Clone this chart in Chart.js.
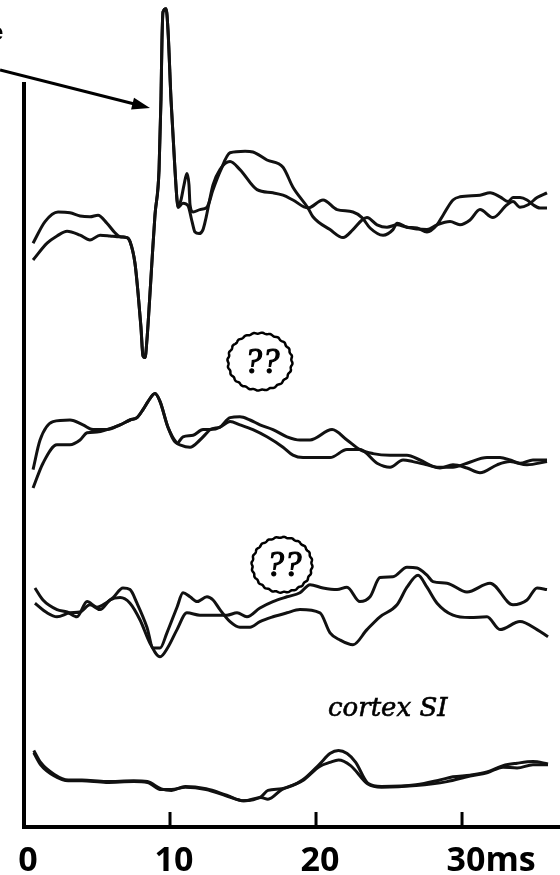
<!DOCTYPE html>
<html>
<head>
<meta charset="utf-8">
<script src="https://cdn.jsdelivr.net/npm/chart.js@4.4.1/dist/chart.umd.min.js"></script>
<style>
  html, body { margin: 0; padding: 0; background: #fff; }
  canvas { display: block; }
</style>
</head>
<body>
<canvas id="registro" width="560" height="875"></canvas>
<script>
// Eixo do tempo (ms)
const ticksTempo = [0, 10, 20, 30];
const rotulosTempo = ['0', '10', '20', '30ms'];

// Canal 1 (resposta com artefato de estímulo) - pares [ms, amplitude]
const inicio1a = [[0.62,72.6],[1.44,75.3],[2.33,76.5],[3.15,76.4],[3.84,76.0],[4.52,75.9],[5.07,76.1],[5.68,75.1],[6.23,73.9],[6.58,73.4]];
const inicio1b = [[0.62,70.5],[1.58,72.6],[2.26,73.5],[2.95,74.1],[3.84,73.6],[4.52,73.0],[5.21,73.6],[5.89,73.5],[6.37,73.4]];
const pico1 = [[7.05,73.3],[7.26,72.8],[7.60,70.1],[7.81,66.4],[8.01,62.1],[8.15,58.5],[8.29,58.3],[8.42,60.5],[8.56,64.3],[8.77,70.5],[8.97,76.1],[9.25,81.8],[9.38,90.5],[9.45,98.0],[9.52,101.5],[9.73,101.9],[9.86,99.3],[10.07,90.5],[10.34,81.8],[10.48,78.0],[10.55,77.1]];
const fim1a = [[10.75,78.0],[10.96,79.9],[11.16,81.3],[11.30,79.9],[11.37,77.4],[11.58,76.5],[12.05,76.8],[12.53,77.1],[12.95,79.3],[13.42,81.5],[14.11,83.9],[15.14,84.1],[15.68,84.0],[16.64,83.0],[17.74,82.1],[18.42,79.6],[19.45,77.0],[19.79,75.9],[20.96,74.3],[21.85,73.3],[22.53,74.3],[23.15,75.5],[23.49,75.8],[24.18,74.9],[24.86,74.6],[25.55,74.9],[26.23,74.6],[26.92,74.5],[27.60,74.0],[28.29,74.9],[28.70,76.1],[29.38,78.0],[29.86,78.4],[31.23,78.6],[31.92,78.9],[32.60,78.4],[33.15,77.8],[33.49,78.3],[33.97,78.3],[34.45,78.0],[34.86,77.4],[35.34,77.0],[35.82,77.0]];
const fim1b = [[10.89,77.6],[11.23,77.3],[11.51,75.3],[11.71,74.0],[11.99,73.8],[12.26,74.3],[12.47,75.8],[12.67,77.6],[12.95,79.9],[13.42,81.8],[14.11,82.8],[14.79,81.8],[15.96,79.3],[17.05,78.9],[17.74,78.6],[18.42,78.0],[19.45,77.0],[20.48,78.0],[21.44,76.8],[22.53,76.5],[23.15,75.8],[23.70,74.5],[24.59,73.6],[25.27,74.3],[25.55,75.1],[26.23,74.6],[27.60,74.3],[28.29,74.9],[29.18,75.3],[29.86,74.9],[30.55,75.5],[31.23,76.8],[32.12,75.8],[33.08,77.4],[33.49,77.8],[33.97,77.1],[34.52,77.4],[35.14,78.3],[35.82,78.9]];

// Canal 2
const inicio2a = [[0.62,44.3],[1.10,48.0],[1.99,50.3],[3.15,50.5],[4.04,49.9],[4.73,49.3],[5.68,49.3]];
const inicio2b = [[0.62,42.0],[1.30,45.1],[2.26,47.4],[3.15,47.4],[3.84,48.0],[4.32,48.9],[5.00,49.0],[5.68,49.3]];
const pico2 = [[6.58,49.9],[7.26,50.5],[7.74,50.8],[8.15,51.8],[8.49,52.8],[8.97,53.8],[9.32,52.8],[9.86,49.6],[10.48,47.6]];
const fim2a = [[10.89,48.4],[11.58,48.6],[12.26,49.3],[12.74,49.3],[13.42,49.6],[14.11,50.8],[14.79,50.9],[15.48,50.5],[16.16,49.9],[17.05,49.3],[18.01,48.4],[18.90,48.0],[19.59,48.0],[21.10,49.3],[22.12,48.0],[23.01,46.8],[23.90,46.3],[25.07,46.1],[26.23,46.1],[27.12,45.5],[28.29,44.6],[29.38,44.6],[30.34,45.1],[31.71,45.8],[32.60,45.8],[33.29,45.5],[33.97,45.1],[34.86,45.5],[35.82,45.5]];
const fim2b = [[10.68,47.4],[11.37,47.1],[12.05,48.0],[12.53,48.9],[12.74,49.3],[13.42,49.6],[14.11,50.3],[14.79,49.9],[15.68,49.3],[16.64,48.4],[17.74,47.1],[18.42,46.1],[19.11,45.8],[20.96,45.8],[22.12,46.8],[23.01,46.8],[24.18,45.1],[25.07,44.6],[25.96,45.5],[26.64,45.3],[27.60,44.9],[28.49,44.5],[29.38,44.9],[30.34,44.5],[31.23,43.9],[32.40,44.9],[33.29,45.3],[34.45,44.9],[35.82,45.3]];

// Canal 3
const canal3a = [[0.75,29.5],[1.30,28.0],[2.26,26.8],[2.95,26.5],[3.63,25.9],[4.32,27.8],[5.00,27.1],[5.41,27.4],[6.10,28.3],[6.78,29.5],[7.26,29.3],[7.74,27.6],[8.42,24.6],[8.84,22.0],[9.32,22.0],[9.79,23.9],[10.48,27.1],[10.89,28.9],[11.37,28.4],[11.85,27.8],[12.53,28.4],[12.95,28.0],[13.42,26.8],[14.11,25.3],[14.79,24.6],[15.48,24.6],[16.16,25.3],[17.05,25.9],[18.01,26.4],[18.90,26.8],[20.27,26.4],[20.96,23.9],[21.64,23.0],[22.53,22.4],[23.49,24.3],[24.38,25.9],[25.55,27.4],[26.23,29.6],[26.99,31.1],[27.60,29.6],[28.29,27.6],[29.38,26.1],[30.55,25.8],[31.71,25.9],[32.60,24.3],[33.97,25.3],[35.14,24.3],[35.89,23.4]];
const canal3b = [[0.75,27.6],[1.58,26.4],[2.26,25.9],[3.15,26.4],[3.84,26.5],[4.52,27.4],[5.21,26.8],[5.89,28.0],[6.58,28.3],[7.26,27.6],[7.95,25.5],[8.63,22.6],[9.32,20.9],[9.86,22.1],[10.48,24.3],[11.16,26.4],[12.05,26.1],[12.95,26.1],[13.90,26.1],[14.59,26.4],[15.27,25.9],[16.16,27.0],[17.05,27.8],[18.01,28.4],[18.90,28.9],[19.59,29.9],[20.48,29.5],[21.44,29.3],[22.12,29.6],[23.01,27.8],[23.70,28.4],[24.38,30.8],[25.27,30.9],[26.23,32.1],[26.92,32.0],[27.60,31.1],[28.01,30.3],[28.97,30.1],[30.34,29.0],[31.92,30.1],[33.49,27.4],[34.45,28.0],[35.14,29.5],[35.82,29.3]];

// Canal 4 (cortex SI)
const canal4a = [[0.67,9.2],[1.14,7.7],[2.08,6.2],[3.03,5.5],[3.97,5.5],[5.62,5.3],[7.51,5.4],[8.45,5.3],[9.40,4.4],[10.10,4.2],[11.05,4.7],[12.47,4.4],[13.88,3.6],[15.05,2.9],[16.23,3.4],[16.71,4.2],[17.65,4.4],[19.07,5.5],[20.25,7.5],[20.95,8.8],[21.54,9.2],[22.13,8.8],[22.72,7.7],[23.55,5.1],[24.49,4.7],[26.85,4.9],[28.49,5.5],[29.38,5.9],[30.55,6.1],[31.71,6.5],[32.81,7.3],[33.77,7.6],[34.86,7.8],[35.89,7.5]];
const canal4b = [[0.67,8.9],[1.14,7.4],[2.08,6.0],[3.03,5.4],[3.97,5.4],[5.62,5.2],[7.51,5.3],[8.45,5.2],[9.40,4.3],[10.10,4.3],[11.05,4.6],[12.47,4.3],[13.88,3.5],[15.05,2.9],[16.23,3.3],[16.71,3.1],[17.65,4.3],[19.07,5.4],[20.25,7.2],[20.95,7.7],[21.54,8.0],[22.37,7.3],[23.55,5.0],[24.49,4.6],[26.85,4.8],[28.97,5.3],[30.55,6.0],[31.71,6.4],[32.81,7.1],[33.77,7.0],[34.86,7.4],[35.89,7.4]];

// Anotações (em unidades dos eixos)
const topoEixoVertical = 92.75;
const setaInicio = [-1.64, 94.25];
const setaPonta = [8.63, 89.5];
const baloes = [[16.16, 57.8, 32, 28.5], [17.67, 32.4, 30, 27.5]];
const rotuloCortex = { texto: 'cortex SI', pos: [20.82, 13.5] };

/**
 * Desenha uma elipse com contorno levemente ondulado (balão "??").
 */
function elipseOndulada(ctx, cx, cy, rx, ry) {
    ctx.beginPath();
    for (let i = 0; i <= 300; i++) {
        const a = (i / 300) * Math.PI * 2;
        const k = 1 + 0.018 * Math.sin(a * 24);
        const px = cx + rx * k * Math.cos(a);
        const py = cy + ry * k * Math.sin(a);
        if (i === 0) ctx.moveTo(px, py); else ctx.lineTo(px, py);
    }
    ctx.closePath();
    ctx.stroke();
}

/**
 * Plugin que desenha os eixos à mão (marcas para dentro) e as anotações.
 */
const pluginEixos = {
    id: 'eixosEAnotacoes',
    afterDatasetsDraw(chart) {
        const { ctx, scales: { x, y } } = chart;
        const x0 = x.getPixelForValue(0);
        const yBase = y.getPixelForValue(y.min);

        ctx.save();
        ctx.strokeStyle = '#000';
        ctx.fillStyle = '#000';

        // eixo vertical
        ctx.lineWidth = 4;
        ctx.beginPath();
        ctx.moveTo(x0, y.getPixelForValue(topoEixoVertical));
        ctx.lineTo(x0, yBase + 2);
        ctx.stroke();

        // eixo horizontal
        ctx.beginPath();
        ctx.moveTo(x0 - 2, yBase);
        ctx.lineTo(chart.width, yBase);
        ctx.stroke();

        // marcas do tempo (para cima)
        ctx.lineWidth = 3;
        ticksTempo.forEach(t => {
            if (t === 0) return;
            const px = x.getPixelForValue(t);
            ctx.beginPath();
            ctx.moveTo(px, yBase);
            ctx.lineTo(px, yBase - 15);
            ctx.stroke();
        });

        // rótulos do tempo
        ctx.font = 'bold 34px "Open Sans", "Liberation Sans", sans-serif';
        ctx.textAlign = 'left';
        ctx.textBaseline = 'alphabetic';
        ticksTempo.forEach((t, i) => {
            const num = String(t);
            const px = x.getPixelForValue(t) + 4;
            ctx.fillText(rotulosTempo[i], px - ctx.measureText(num).width / 2, 871);
        });

        // seta do artefato
        const sx = x.getPixelForValue(setaInicio[0]), sy = y.getPixelForValue(setaInicio[1]);
        const tx = x.getPixelForValue(setaPonta[0]), ty = y.getPixelForValue(setaPonta[1]);
        const ang = Math.atan2(ty - sy, tx - sx);
        const ux = Math.cos(ang), uy = Math.sin(ang);
        ctx.lineWidth = 3;
        ctx.beginPath();
        ctx.moveTo(sx, sy);
        ctx.lineTo(tx - 14 * ux, ty - 14 * uy);
        ctx.stroke();
        ctx.beginPath();
        ctx.moveTo(tx, ty);
        ctx.lineTo(tx - 18 * ux - 6 * uy, ty - 18 * uy + 6 * ux);
        ctx.lineTo(tx - 18 * ux + 6 * uy, ty - 18 * uy - 6 * ux);
        ctx.closePath();
        ctx.fill();

        // letra cortada no canto
        ctx.font = 'bold 24px "Liberation Sans", sans-serif';
        ctx.fillText('e', -10, 40);

        // balões "??"
        baloes.forEach(([bx, by, rx, ry]) => {
            const cx = x.getPixelForValue(bx), cy = y.getPixelForValue(by);
            ctx.lineWidth = 2.5;
            elipseOndulada(ctx, cx, cy, rx, ry);
            ctx.font = 'italic 35px "Liberation Serif", serif';
            ctx.textAlign = 'center';
            ctx.lineWidth = 1.2;
            ctx.fillText('??', cx + 2, cy + 11);
            ctx.strokeText('??', cx + 2, cy + 11);
        });

        // rótulo do córtex
        ctx.textAlign = 'left';
        ctx.font = 'italic 26px "DejaVu Serif", "Liberation Serif", serif';
        ctx.lineWidth = 0.6;
        const lx = x.getPixelForValue(rotuloCortex.pos[0]), ly = y.getPixelForValue(rotuloCortex.pos[1]);
        ctx.fillText(rotuloCortex.texto, lx, ly);
        ctx.strokeText(rotuloCortex.texto, lx, ly);

        ctx.restore();
    }
};

function criarSerie(nome, dados) {
    return {
        label: nome,
        data: dados,
        borderColor: '#111',
        borderWidth: 3,
        pointRadius: 0,
        fill: false,
        cubicInterpolationMode: 'monotone'
    };
}

const ctx = document.getElementById('registro').getContext('2d');
const grafico = new Chart(ctx, {
    type: 'line',
    data: {
        datasets: [
            criarSerie('canal 1a', [...inicio1a, ...pico1, ...fim1a]),
            criarSerie('canal 1b', [...inicio1b, ...pico1, ...fim1b]),
            criarSerie('canal 2a', [...inicio2a, ...pico2, ...fim2a]),
            criarSerie('canal 2b', [...inicio2b, ...pico2, ...fim2b]),
            criarSerie('canal 3a', canal3a),
            criarSerie('canal 3b', canal3b),
            criarSerie('canal 4a', canal4a),
            criarSerie('canal 4b', canal4b)
        ]
    },
    options: {
        responsive: false,
        animation: false,
        devicePixelRatio: 1,
        layout: { padding: { left: 24, right: 0, top: 0, bottom: 48 } },
        scales: {
            x: { type: 'linear', min: 0, max: 36.71, display: false },
            y: { type: 'linear', min: -0.375, max: 103, display: false }
        },
        plugins: {
            legend: { display: false },
            tooltip: { enabled: false }
        }
    },
    plugins: [pluginEixos]
});
</script>
</body>
</html>
